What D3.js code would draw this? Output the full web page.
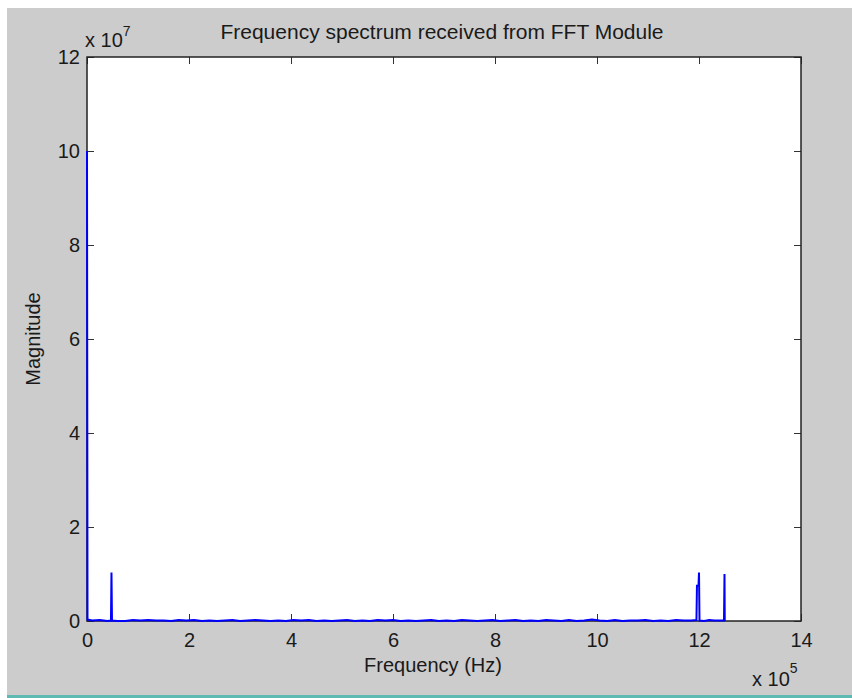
<!DOCTYPE html>
<html>
<head>
<meta charset="utf-8">
<script src="https://cdn.jsdelivr.net/npm/d3@7"></script>
<style>
  body { margin: 0; background: #fff; }
  text { font-family: "Liberation Sans", Arial, sans-serif; fill: #1a1a1a; }
</style>
</head>
<body>
<div id="chart-area"></div>
<script>
// Frequency in units of 1e5 Hz, magnitude in units of 1e7
var freqs = [0, 0.01, 0.1, 0.25, 0.4, 0.47, 0.48, 0.49, 0.6, 0.75, 0.9, 1.05, 1.2, 1.35,
    1.5, 1.65, 1.8, 1.95, 2.1, 2.25, 2.4, 2.55, 2.7, 2.85, 3.0, 3.15, 3.3, 3.45, 3.6,
    3.75, 3.9, 4.05, 4.2, 4.35, 4.5, 4.65, 4.8, 4.95, 5.1, 5.25, 5.4, 5.55, 5.7, 5.85,
    6.0, 6.15, 6.3, 6.45, 6.6, 6.75, 6.9, 7.05, 7.2, 7.35, 7.5, 7.65, 7.8, 7.95, 8.1,
    8.25, 8.4, 8.55, 8.7, 8.85, 9.0, 9.15, 9.3, 9.45, 9.6, 9.75, 9.9, 10.05, 10.2, 10.35,
    10.5, 10.65, 10.8, 10.95, 11.1, 11.25, 11.4, 11.55, 11.7, 11.85, 11.95, 11.96, 11.99,
    12.0, 12.01, 12.1, 12.2, 12.3, 12.4, 12.49, 12.5, 12.505];

var magnitudes = [10.0, 0.03, 0.01, 0.02, 0.0, 0.01, 1.03, 0.01, 0.0, 0.0, 0.02, 0.01,
    0.02, 0.01, 0.01, 0.0, 0.02, 0.01, 0.02, 0.0, 0.01, 0.0, 0.01, 0.02, 0.0, 0.01,
    0.02, 0.01, 0.0, 0.01, 0.0, 0.02, 0.01, 0.02, 0.0, 0.01, 0.0, 0.01, 0.02, 0.0,
    0.01, 0.0, 0.02, 0.01, 0.02, 0.0, 0.01, 0.0, 0.01, 0.02, 0.0, 0.01, 0.0, 0.02,
    0.01, 0.0, 0.01, 0.02, 0.0, 0.01, 0.02, 0.0, 0.01, 0.0, 0.02, 0.01, 0.0, 0.02,
    0.0, 0.01, 0.03, 0.01, 0.0, 0.02, 0.0, 0.01, 0.01, 0.02, 0.0, 0.01, 0.0, 0.02,
    0.01, 0.01, 0.02, 0.75, 0.75, 1.03, 0.01, 0.0, 0.02, 0.01, 0.01, 0.01, 1.0, 0.0];

var xTicks = [0, 2, 4, 6, 8, 10, 12, 14];
var yTicks = [0, 2, 4, 6, 8, 10, 12];

var W = 852, H = 698;
var plot = { left: 87, right: 801, top: 57, bottom: 621 };

var svg = d3.select("#chart-area")
    .append("svg")
        .attr("width", W)
        .attr("height", H);

// figure background
svg.append("rect").attr("width", W).attr("height", H).attr("fill", "#ffffff");
svg.append("rect")
    .attr("x", 7).attr("y", 8)
    .attr("width", W - 7).attr("height", 687)
    .attr("fill", "#cccccc");
svg.append("rect")
    .attr("x", 7).attr("y", 695)
    .attr("width", W - 7).attr("height", 3)
    .attr("fill", "#5cbab2");

// axes background
svg.append("rect")
    .attr("x", plot.left).attr("y", plot.top)
    .attr("width", plot.right - plot.left)
    .attr("height", plot.bottom - plot.top)
    .attr("fill", "#ffffff");

var x = d3.scaleLinear().domain([0, 14]).range([plot.left, plot.right]);
var y = d3.scaleLinear().domain([0, 12]).range([plot.bottom, plot.top]);

function styleAxis(g) {
    g.select(".domain").remove();
    g.selectAll(".tick line").attr("stroke", "#333");
    g.selectAll(".tick text")
        .attr("font-size", "20px")
        .attr("fill", "#1a1a1a")
        .style("font-family", "'Liberation Sans', Arial, sans-serif");
}

// bottom axis
svg.append("g")
    .attr("transform", "translate(0," + plot.bottom + ")")
    .call(d3.axisBottom(x).tickValues(xTicks).tickSize(-7).tickPadding(12)
        .tickFormat(d3.format("d")))
    .call(styleAxis);

// top axis (ticks only)
svg.append("g")
    .attr("transform", "translate(0," + plot.top + ")")
    .call(d3.axisTop(x).tickValues(xTicks).tickSize(-7).tickFormat(""))
    .call(styleAxis);

// left axis
svg.append("g")
    .attr("transform", "translate(" + plot.left + ",0)")
    .call(d3.axisLeft(y).tickValues(yTicks).tickSize(-7).tickPadding(7)
        .tickFormat(d3.format("d")))
    .call(styleAxis);

// right axis (ticks only)
svg.append("g")
    .attr("transform", "translate(" + plot.right + ",0)")
    .call(d3.axisRight(y).tickValues(yTicks).tickSize(-7).tickFormat(""))
    .call(styleAxis);

// axes frame
svg.append("rect")
    .attr("x", plot.left).attr("y", plot.top)
    .attr("width", plot.right - plot.left)
    .attr("height", plot.bottom - plot.top)
    .attr("fill", "none")
    .attr("stroke", "#222")
    .attr("stroke-width", 1.5);

// spectrum line (drawn over the frame, like the original)
var data = freqs.map(function(f, i) { return { f: f, m: magnitudes[i] }; });

var line = d3.line()
    .x(function(d) { return x(d.f); })
    .y(function(d) { return y(d.m); });

svg.append("path")
    .datum(data)
    .attr("fill", "none")
    .attr("stroke", "#0000ff")
    .attr("stroke-width", 2)
    .attr("d", line);

// Title
svg.append("text")
    .attr("x", (plot.left + plot.right) / 2 - 2)
    .attr("y", 39)
    .attr("font-size", "21px")
    .attr("text-anchor", "middle")
    .text("Frequency spectrum received from FFT Module");

// X Label
svg.append("text")
    .attr("x", 433)
    .attr("y", 672)
    .attr("font-size", "20px")
    .attr("text-anchor", "middle")
    .text("Frequency (Hz)");

// Y Label
svg.append("text")
    .attr("transform", "translate(40," + ((plot.top + plot.bottom) / 2) + ") rotate(-90)")
    .attr("font-size", "20px")
    .attr("text-anchor", "middle")
    .text("Magnitude");

// exponent labels
var yExp = svg.append("text").attr("x", 85).attr("y", 47).attr("font-size", "20px");
yExp.append("tspan").text("x 10");
yExp.append("tspan").attr("font-size", "14px").attr("dy", -11).text("7");

var xExp = svg.append("text").attr("x", 752).attr("y", 686).attr("font-size", "20px");
xExp.append("tspan").text("x 10");
xExp.append("tspan").attr("font-size", "14px").attr("dy", -13).text("5");
</script>
</body>
</html>
